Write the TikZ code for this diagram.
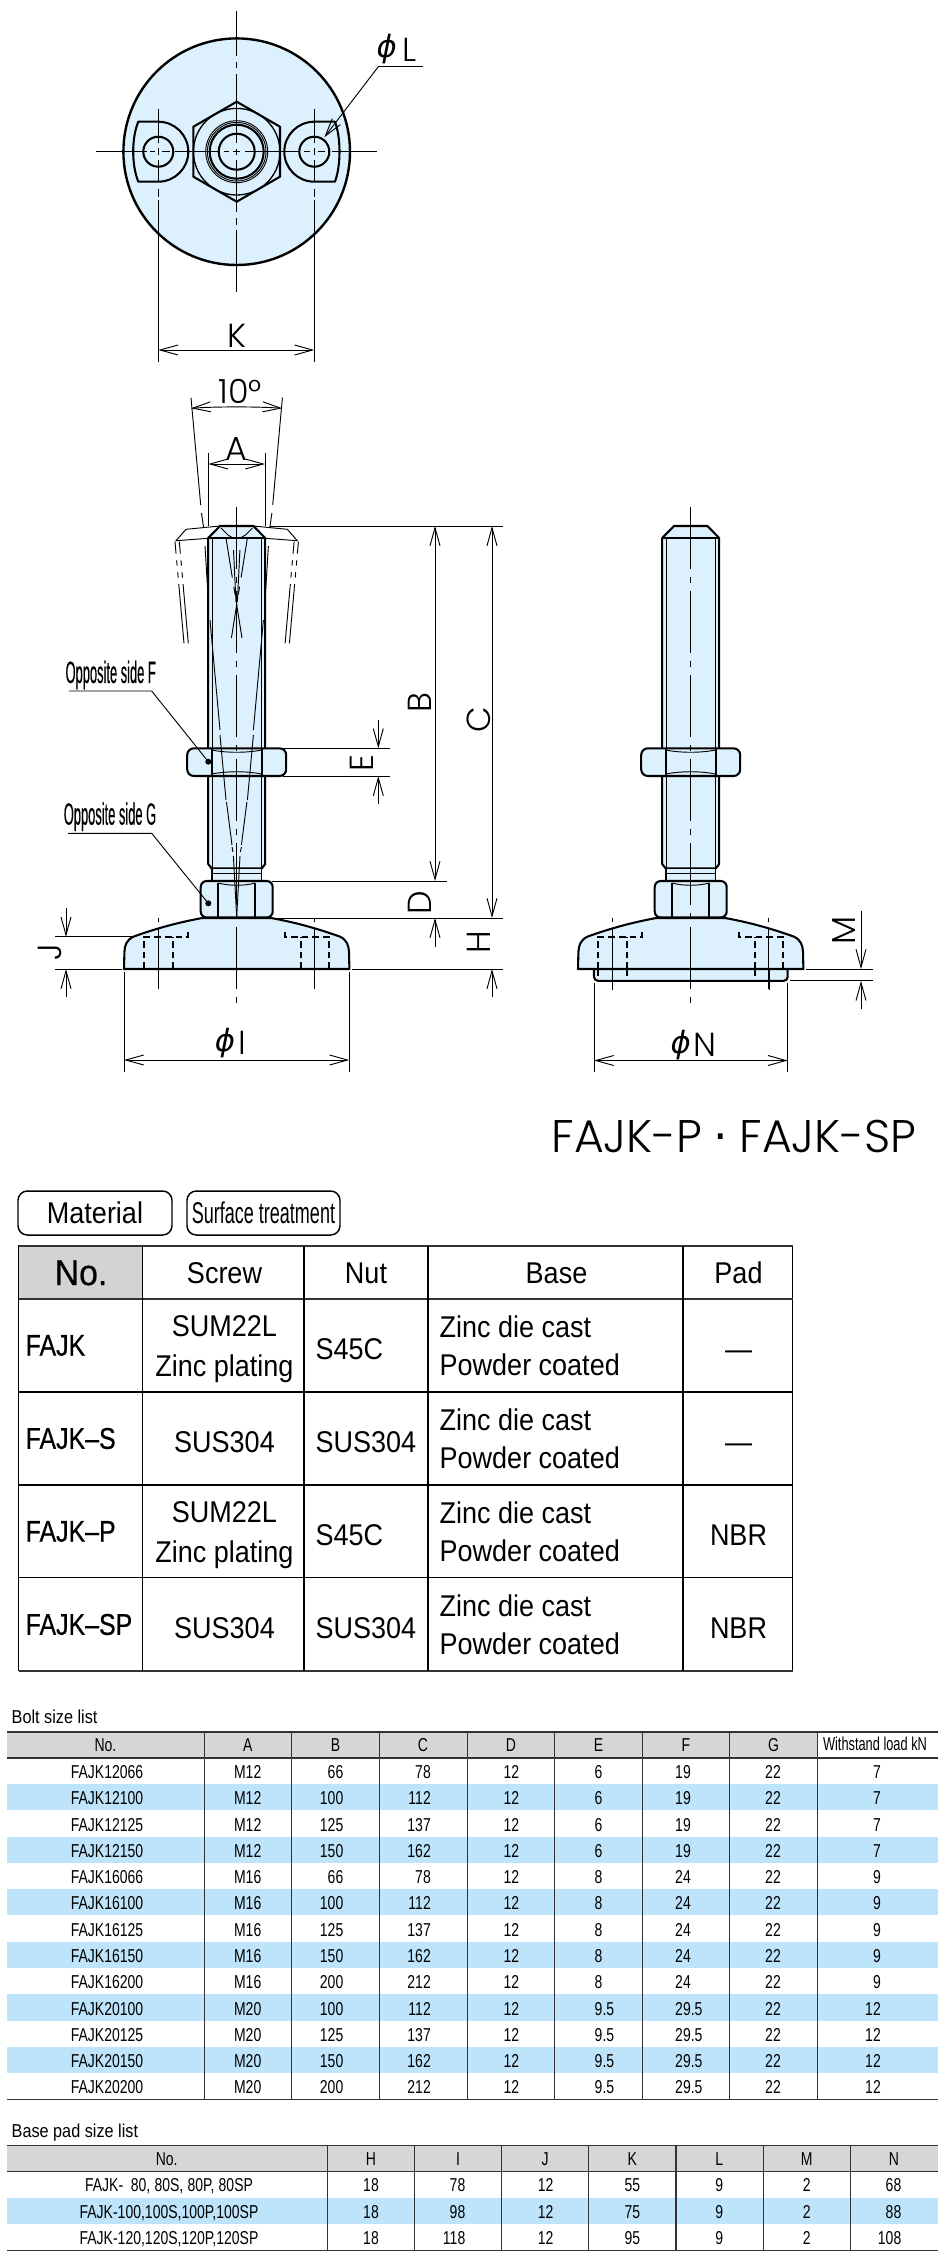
\documentclass[tikz,border=0pt]{standalone}
\usepackage{fontspec}
\usepackage{graphicx}
\usetikzlibrary{arrows.meta}
\setmainfont{Liberation Sans}
\newfontfamily\labfont{Poppins Light}
\newfontfamily\phifont{DejaVu Sans}
\newfontfamily\semib[FakeBold=0.6]{Liberation Sans}
\definecolor{partblue}{HTML}{DDF0FD}
\definecolor{stripe}{HTML}{BDE4FB}
\definecolor{headgray}{HTML}{D4D6D8}
\definecolor{nogray}{HTML}{D2D3D5}
\definecolor{rulec}{HTML}{333333}
\newcommand\sx[2]{\scalebox{#1}[1]{#2}}
\newcommand\lab[1]{{\fontsize{25pt}{25pt}\labfont #1}}
\newcommand\philab{{\fontsize{23pt}{23pt}\phifont\itshape ϕ}}
\newcommand\mt[1]{{\fontsize{22.5pt}{22.5pt}\selectfont\sx{.9}{#1}}}
\newcommand\mb[1]{{\fontsize{22.5pt}{22.5pt}\semib\sx{.83}{#1}}}
\newcommand\tb[1]{{\fontsize{14pt}{14pt}\selectfont\sx{.75}{#1}}}
\newcommand\hd[1]{{\fontsize{14pt}{14pt}\selectfont\sx{.87}{#1}}}
\tikzset{
 thk/.style={line width=1.55pt,line join=round},
 thn/.style={line width=.7pt},
 mid/.style={line width=1pt},
 dimn/.style={line width=.7pt,{Straight Barb[length=13.5pt,width=7.5pt]}-{Straight Barb[length=13.5pt,width=7.5pt]}},
 dimr/.style={line width=.7pt,-{Straight Barb[length=13.5pt,width=7.5pt]}},
 pocket/.style={line width=1.6pt,dash pattern=on 5pt off 3pt},
 axisl/.style={line width=.7pt,dash pattern=on 46.5pt off 6pt on 4.5pt off 6pt},
 phant/.style={line width=.7pt,dash pattern=on 9pt off 5pt on 4pt off 5pt on 4pt off 5pt on 90pt},
 inner/.style={line width=.7pt,dash pattern=on 30pt off 7pt on 6pt off 7pt on 200pt},
 trule/.style={line width=1.2pt,rulec},
 crule/.style={line width=.8pt,rulec},
 mrule/.style={line width=.9pt,black},
 mrulek/.style={line width=1.3pt,rulec},
 ptbox/.style={line width=1.1pt,rounded corners=7pt},
}
\newcommand\levelbody{%
 \draw[thk,fill=partblue] (-34.4,918) .. controls (-62,923) and (-85,930) .. (-103.4,936.7) .. controls (-110,940) and (-112,945) .. (-112.3,952) -- (-112.7,969) -- (112.7,969) -- (112.3,952) .. controls (112,945) and (110,940) .. (103.4,936.7) .. controls (85,930) and (62,923) .. (34.4,918) -- cycle;
 \draw[pocket] (-92.7,969) -- (-92.7,936.7) -- (-48.4,936.7) -- (-48.4,931);
 \draw[pocket] (-64,969) -- (-64,936.7);
 \draw[pocket] (92.7,969) -- (92.7,936.7) -- (48.4,936.7) -- (48.4,931);
 \draw[pocket] (64,969) -- (64,936.7);
 \draw[thn] (-78.4,918) -- (-78.4,922) (-78.4,928) -- (-78.4,989);
 \draw[thn] (78,918) -- (78,922) (78,928) -- (78,989);
 \draw[thk,fill=partblue] (-16.7,526) -- (16.7,526) -- (28.5,538) -- (28.5,864) -- (25,868.5) -- (-25,868.5) -- (-28.5,864) -- (-28.5,538) -- cycle;
 \draw[thk] (-28.5,538) -- (28.5,538);
 \draw[thn] (-24.7,538) -- (-24.7,868) (24.7,538) -- (24.7,868);
 \draw[mid,fill=partblue] (-24.7,868.5) rectangle (24.7,881);
 \draw[thn] (-24.7,873) -- (24.7,873);
 \draw[thk,fill=partblue,rounded corners=5pt] (-49.5,748.3) rectangle (49.5,776);
 \draw[thk] (-25,749) -- (-25,775.5) (25,749) -- (25,775.5);
 \draw[thn] (-25,750) .. controls (-10,753) and (10,753) .. (25,750);
 \draw[thn] (-25,774) .. controls (-10,771) and (10,771) .. (25,774);
 \draw[thk,fill=partblue,rounded corners=4.5pt] (-36,881) rectangle (36,917.5);
 \draw[thk] (-18.4,883) -- (-18.4,916.5) (18.4,883) -- (18.4,916.5);
 \draw[thn] (-18.4,883) .. controls (-8,886) and (8,886) .. (18.4,883);
}
\begin{document}
\begin{tikzpicture}[x=.75pt,y=-.75pt]
\useasboundingbox (0,0) rectangle (950,2260);
%% ---------- top view ----------
\draw[thk,line width=1.8pt,fill=partblue] (236.7,151.7) circle[radius=113.3];
\begin{scope}[shift={(236.7,151.7)}]
 \draw[thk] (0,-50) -- (43.3,-25) -- (43.3,25) -- (0,50) -- (-43.3,25) -- (-43.3,-25) -- cycle;
 \draw[mid] (0,0) circle[radius=43.3];
 \draw[thn] (0,0) circle[radius=31];
 \draw[thn] (0,0) circle[radius=29.3];
 \draw[thk] (0,0) circle[radius=27];
 \draw[thk] (0,0) circle[radius=18];
\end{scope}
\draw[thk] (138.3,121.7) -- (158.3,121.7) arc[start angle=-90,end angle=90,radius=30] -- (138.3,181.7) .. controls (131.5,165) and (131.5,138) .. (138.3,121.7) -- cycle;
\draw[thk] (158.3,151.7) circle[radius=15];
\draw[thk] (335,121.7) -- (314.3,121.7) arc[start angle=-90,end angle=-270,radius=30] -- (335,181.7) .. controls (341,165) and (341,138) .. (335,121.7) -- cycle;
\draw[thk] (314.3,151.7) circle[radius=15];
% centre lines
\draw[thn] (96,151.7) -- (147,151.7) (150,151.7) -- (155,151.7) (162,151.7) -- (170,151.7) (175,151.7) -- (220,151.7) (224,151.7) -- (229,151.7) (233,151.7) -- (240,151.7) (245,151.7) -- (300,151.7) (304,151.7) -- (310,151.7) (318,151.7) -- (325,151.7) (332,151.7) -- (376.7,151.7);
\draw[thn] (236.7,11) -- (236.7,56) (236.7,62) -- (236.7,68) (236.7,74) -- (236.7,143) (236.7,149) -- (236.7,155) (236.7,160) -- (236.7,212) (236.7,218) -- (236.7,225) (236.7,230) -- (236.7,292);
\draw[thn] (158.3,108.5) -- (158.3,143) (158.3,148) -- (158.3,155) (158.3,160) -- (158.3,181.7) (158.3,188.5) -- (158.3,196.5) (158.3,200) -- (158.3,361.7);
\draw[thn] (314.3,108.5) -- (314.3,143) (314.3,148) -- (314.3,155) (314.3,160) -- (314.3,181.7) (314.3,188.5) -- (314.3,196.5) (314.3,200) -- (314.3,361.7);
\draw[dimn] (158.3,350) -- (314.3,350);
\node (labK) at (236.7,336) {\lab{K}};
% phi L
\coordinate (lea) at (423.3,66.7);
\coordinate (leb) at (378.3,66.7);
\coordinate (lec) at (324.3,137.3);
\draw[thn] (lea) -- (leb);
\draw[dimr] (leb) -- (lec);
\node (phiL) at (386.7,49) {\philab};
\node (labL) at (410,50) {\lab{L}};
%% ---------- left view ----------
\begin{scope}[shift={(236.7,0)}]
 \levelbody
\end{scope}
% tilted ghost outlines
\draw[thn] (220,526) -- (186,529.3) -- (176,540.7) -- (208.3,538.3);
\draw[thn] (253.4,526) -- (287.3,529.3) -- (297.3,540.7) -- (265.1,538.3);
\draw[phant] (175,541.7) -- (184,643.3);
\draw[phant] (179.3,541.7) -- (188.3,643.3);
\draw[phant] (298.4,541.7) -- (289.4,643.3);
\draw[phant] (294.1,541.7) -- (285.1,643.3);
\draw[thn] (221,528) -- (228,535) -- (233,538);
\draw[thn] (252.4,528) -- (245.4,535) -- (240.4,538);
\draw[inner] (226,538) -- (242,638);
\draw[inner] (247.4,538) -- (231.4,638);
\draw[thn] (233.5,550) -- (236,602);
\draw[thn] (239.9,550) -- (237.4,602);
\draw[thn] (210,620) -- (220,730) (220,735) -- (226,800) (226.5,802) -- (232,845);
\draw[thn] (263.4,620) -- (253.4,730) (253.4,735) -- (247.4,800) (246.9,802) -- (241.4,845);
\draw[thn] (232,847) -- (233,852) (233.4,856) -- (236.7,917);
\draw[thn] (241.4,847) -- (240.4,852) (240,856) -- (236.7,917);
\draw[thn] (191,397.7) -- (200.7,505) (201.5,513) -- (203.5,527) (205,546) -- (208.3,600);
\draw[thn] (282.4,397.7) -- (272.7,505) (271.9,513) -- (269.9,527) (268.4,546) -- (265.1,600);
\draw[axisl] (236.7,506.7) -- (236.7,1003.3);
% dimensions
\draw[thn] (208.3,452.7) -- (208.3,526) (265,452.7) -- (265,526);
\draw[dimn] (208.3,464) -- (265,464);
\node (labA) at (236.7,449) {\lab{A}};
\draw[line width=.7pt,{Straight Barb[length=13.5pt,width=7.5pt]}-{Straight Barb[length=13.5pt,width=7.5pt]}] (191,408.3) .. controls (215,406.5) and (258,406.5) .. (282.4,408.3);
\node (lab10) at (240,391.7) {\lab{10°}};
\draw[thn] (270,526) -- (503.3,526);
\draw[thn] (273,748.3) -- (390,748.3) (283,776) -- (390,776);
\draw[thn] (271.7,881) -- (446.7,881) (273,918) -- (503.3,918);
\draw[thn] (351.7,969) -- (503.3,969);
\draw[dimn] (435,526) -- (435,881);
\draw[dimr] (435,946.7) -- (435,918);
\draw[dimn] (492,526) -- (492,918);
\draw[dimr] (492,997.3) -- (492,969);
\coordinate (ea) at (378.3,720);
\coordinate (eb) at (378.3,804.3);
\draw[dimr] (ea) -- (378.3,748.3);
\draw[dimr] (eb) -- (378.3,776);
\node[rotate=90] (labB) at (420,703) {\lab{B}};
\node[rotate=90] (labC) at (479.3,720) {\lab{C}};
\node[rotate=90] (labE) at (361.7,762.7) {\lab{E}};
\node[rotate=90] (labD) at (420,902.3) {\lab{D}};
\node[rotate=90] (labH) at (479.3,941.7) {\lab{H}};
\draw[thn] (55,936.7) -- (133,936.7) (55,969) -- (121.7,969);
\draw[dimr] (66,908) -- (66,936.7);
\draw[dimr] (66,997.3) -- (66,969);
\node[rotate=90] (labJ) at (50,951.7) {\lab{J}};
\draw[thn] (124,972) -- (124,1071.7) (349.3,972) -- (349.3,1071.7);
\draw[dimn] (124,1060) -- (349.3,1060);
\node (phiI) at (225,1043) {\philab};
\node (labI) at (242.7,1043) {\lab{I}};
% leaders
\node (optF) at (110.7,675) {\fontsize{23pt}{23pt}\semib\sx{.42}{Opposite side F}};
\node (optG) at (110,816.7) {\fontsize{23pt}{23pt}\semib\sx{.42}{Opposite side G}};
\coordinate (fa) at (69,691); \coordinate (fb) at (151.7,691); \coordinate (fc) at (208.3,761.7);
\coordinate (ga) at (68,833.3); \coordinate (gb) at (151.7,833.3); \coordinate (gc) at (208.3,903.3);
\draw[thn] (fa) -- (fb) -- (fc);
\draw[thn] (ga) -- (gb) -- (gc);
\fill (fc) circle[radius=3];
\fill (gc) circle[radius=3];
%% ---------- right view ----------
\draw[thk,fill=partblue,rounded corners=3pt] (594,969) -- (594,980.8) -- (787.7,980.8) -- (787.7,969);
\begin{scope}[shift={(690.7,0)}]
 \levelbody
 \draw[pocket] (-92.4,969) -- (-92.4,980.8) (-64,969) -- (-64,980.8) (64,969) -- (64,980.8);
 \draw[thn] (-78.4,969) -- (-78.4,989.6) (78.4,969) -- (78.4,989.6);
 \draw[axisl] (0,506.8) -- (0,1003);
\end{scope}
\draw[thn] (805.7,969) -- (872.7,969) (790,980.8) -- (872.7,980.8);
\draw[dimr] (861,911) -- (861,969);
\draw[dimr] (861,1008.7) -- (861,980.8);
\node[rotate=90] (labM) at (844,930) {\lab{M}};
\draw[thn] (594,983) -- (594,1072) (787.7,983) -- (787.7,1072);
\draw[dimn] (594,1060.5) -- (787.7,1060.5);
\node (phiN) at (680.7,1045) {\philab};
\node (labN) at (705,1045) {\lab{N}};
\node (title) at (734,1136) {{\fontsize{34.3pt}{34.3pt}\labfont FAJK-P\hspace{.25em}{\phifont ·}\hspace{.25em}FAJK-SP}};
%% ---------- material table ----------
\draw[ptbox] (18,1191) rectangle (172,1235);
\draw[ptbox] (187,1191) rectangle (340,1235);
\node (matbox) at (95,1213) {\mt{Material}};
\node (surfbox) at (263.5,1213) {{\fontsize{22.5pt}{22.5pt}\selectfont\sx{.6}{Surface treatment}}};
\fill[nogray] (18.5,1246) rectangle (142.7,1299);
\draw[mrule] (18.5,1246) rectangle (792.6,1670.7);
\draw[mrulek,rulec] (18.5,1246) -- (792.6,1246) (18.5,1299) -- (792.6,1299) (18.5,1670.7) -- (792.6,1670.7);
\foreach \mx in {142.7,304,428,683} \draw[mrule] (\mx,1246) -- (\mx,1670.7);
\foreach \my in {1392,1485,1577.7} \draw[mrule] (18.5,\my) -- (792.6,\my);
\node[anchor=base] (mh1) at (81,1285) {\fontsize{27pt}{27pt}\semib\sx{.94}{No.}};
\node[anchor=base] (mh2) at (224.5,1283) {\mt{Screw}};
\node[anchor=base] (mh3) at (366,1283) {\mt{Nut}};
\node[anchor=base] (mh4) at (556.5,1283) {\mt{Base}};
\node[anchor=base] (mh5) at (738.5,1283) {\mt{Pad}};
\foreach \nm/\scr/\nut/\pad [count=\i] in {FAJK/1/S45C/—,FAJK–S/2/SUS304/—,FAJK–P/1/S45C/NBR,FAJK–SP/2/SUS304/NBR}{
 \pgfmathsetmacro\yc{1345.5+(\i-1)*93}
 \node[anchor=west] (mn\i) at (21,\yc) {\mb{\nm}};
 \ifnum\scr=1
  \node[anchor=base] (msa\i) at (224.5,\yc-9) {\mt{SUM22L}};
  \node[anchor=base] (msb\i) at (224.5,\yc+31) {\mt{Zinc plating}};
 \else
  \node[anchor=base] (msa\i) at (224.5,\yc+13.5) {\mt{SUS304}};
 \fi
 \node[anchor=base west] (mu\i) at (311,\yc+13.5) {\mt{\nut}};
 \node[anchor=base west] (mba\i) at (435,\yc-8) {\mt{Zinc die cast}};
 \node[anchor=base west] (mbb\i) at (435,\yc+30) {\mt{Powder coated}};
 \node[anchor=base] (mp\i) at (738.5,\yc+13.5) {\mt{\pad}};
}
%% ---------- bolt size list ----------
\node[anchor=base west] (bolth) at (7,1723.3) {\hd{Bolt size list}};
\fill[headgray] (6.7,1731.7) rectangle (817.3,1757.7);
\foreach \no/\va/\vb/\vc/\ve/\vf/\vk [count=\i] in {
 FAJK12066/M12/66/78/6/19/7,FAJK12100/M12/100/112/6/19/7,FAJK12125/M12/125/137/6/19/7,FAJK12150/M12/150/162/6/19/7,
 FAJK16066/M16/66/78/8/24/9,FAJK16100/M16/100/112/8/24/9,FAJK16125/M16/125/137/8/24/9,FAJK16150/M16/150/162/8/24/9,FAJK16200/M16/200/212/8/24/9,
 FAJK20100/M20/100/112/9.5/29.5/12,FAJK20125/M20/125/137/9.5/29.5/12,FAJK20150/M20/150/162/9.5/29.5/12,FAJK20200/M20/200/212/9.5/29.5/12}{
 \pgfmathsetmacro\yt{1757.7+(\i-1)*26.28}
 \pgfmathsetmacro\yb{\yt+26.28}
 \pgfmathsetmacro\ybl{\yt+20.8}
 \ifodd\i\else\fill[stripe] (6.7,\yt) rectangle (938,\yb);\fi
 \node[anchor=base] (bn\i) at (107,\ybl) {\tb{\no}};
 \node[anchor=base] (ba\i) at (247.7,\ybl) {\tb{\va}};
 \node[anchor=base east] (bb\i) at (348,\ybl) {\tb{\vb}};
 \node[anchor=base east] (bc\i) at (435.5,\ybl) {\tb{\vc}};
 \node[anchor=base] (bd\i) at (511.3,\ybl) {\tb{12}};
 \node[anchor=base west] (be\i) at (590,\ybl) {\tb{\ve}};
 \node[anchor=base west] (bf\i) at (670.5,\ybl) {\tb{\vf}};
 \node[anchor=base] (bg\i) at (773,\ybl) {\tb{22}};
 \node[anchor=base east] (bk\i) at (885.5,\ybl) {\tb{\vk}};
}
\foreach \bx in {204.3,291.7,379.3,467.3,554.7,642.3,729.7,817.3} \draw[crule] (\bx,1731.7) -- (\bx,2099.3);
\draw[trule] (6.7,1731.7) -- (938,1731.7) (6.7,1757.7) -- (938,1757.7) (6.7,2099.3) -- (938,2099.3);
\foreach \hx/\hlab [count=\i] in {105.5/No.,247.7/A,335.5/B,423/C,511/D,598.5/E,686/F,773.5/G}
 \node[anchor=base] (bh\i) at (\hx,1751.7) {\tb{\hlab}};
\node[anchor=base] (bhw) at (875,1750.5) {{\fontsize{14pt}{14pt}\selectfont\sx{.686}{Withstand load kN}}};
%% ---------- base pad size list ----------
\node[anchor=base west] (padh) at (7,2137.3) {\hd{Base pad size list}};
\fill[headgray] (6.7,2145.3) rectangle (938,2171.3);
\foreach \no/\vi/\vk/\vn [count=\j] in {{FAJK-\hspace{.55em}80,\hspace{.3em}80S,\hspace{.3em}80P,\hspace{.3em}80SP}/78/55/68,{FAJK-100,100S,100P,100SP}/98/75/88,{FAJK-120,120S,120P,120SP}/118/95/108}{
 \pgfmathsetmacro\yt{2171.3+(\j-1)*26.33}
 \pgfmathsetmacro\yb{\yt+26.33}
 \pgfmathsetmacro\ybl{\yt+20.4}
 \ifnum\j=2 \fill[stripe] (6.7,\yt) rectangle (938,\yb);\fi
 \node[anchor=base] (pn\j) at (169,\ybl) {\tb{\no}};
 \node[anchor=base] (ph\j) at (371,\ybl) {\tb{18}};
 \node[anchor=base east] (pi\j) at (470,\ybl) {\tb{\vi}};
 \node[anchor=base] (pj\j) at (545.7,\ybl) {\tb{12}};
 \node[anchor=base] (pk\j) at (632.3,\ybl) {\tb{\vk}};
 \node[anchor=base] (pl\j) at (719.3,\ybl) {\tb{9}};
 \node[anchor=base] (pm\j) at (806.7,\ybl) {\tb{2}};
 \node[anchor=base east] (pz\j) at (906,\ybl) {\tb{\vn}};
}
\foreach \bx in {327.3,414.3,501.3,588.7,676,763.3,850.3} \draw[crule] (\bx,2145.3) -- (\bx,2250.3);
\draw[trule] (6.7,2145.3) -- (938,2145.3) (6.7,2171.3) -- (938,2171.3) (6.7,2250.3) -- (938,2250.3);
\foreach \hx/\hlab [count=\i] in {166.7/No.,371/H,458/I,545/J,632.3/K,719.3/L,806.7/M,894/N}
 \node[anchor=base] (phh\i) at (\hx,2165.7) {\tb{\hlab}};
\end{tikzpicture}
\end{document}
